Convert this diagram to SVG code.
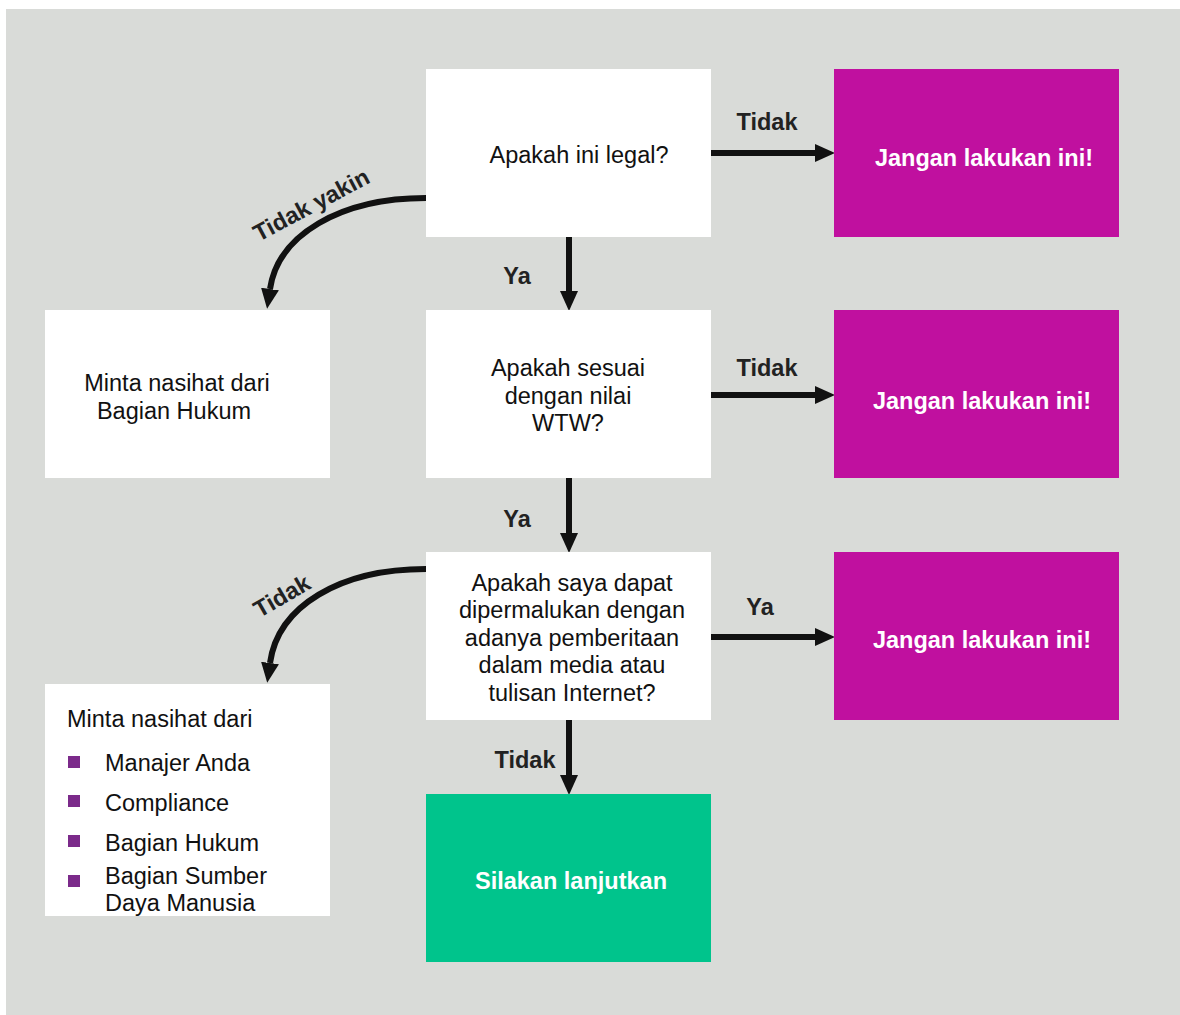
<svg xmlns="http://www.w3.org/2000/svg" width="1180" height="1015" viewBox="0 0 1180 1015">
<defs>
<style>
.bg{fill:#d9dbd8}
.w{fill:#ffffff}
.m{fill:#c0109f}
.g{fill:#00c48c}
.t{font-family:"Liberation Sans",Arial,sans-serif;font-size:23.5px;fill:#111}
.tw{font-family:"Liberation Sans",Arial,sans-serif;font-size:23.5px;font-weight:bold;fill:#fff}
.lb{font-family:"Liberation Sans",Arial,sans-serif;font-size:23.5px;font-weight:bold;fill:#222}
.c{stroke:#111;stroke-width:6;fill:none}
.b{fill:#7b2a8a}
</style>
<marker id="ah" markerUnits="userSpaceOnUse" markerWidth="22" markerHeight="20" refX="0" refY="9" orient="auto">
<path d="M0,0 L20,9 L0,18 z" fill="#111"/>
</marker>
</defs>
<rect class="bg" x="6" y="9" width="1174" height="1006"/>

<g id="connectors">
<line class="c" x1="711" y1="153" x2="815" y2="153" marker-end="url(#ah)"/>
<line class="c" x1="711" y1="395" x2="815" y2="395" marker-end="url(#ah)"/>
<line class="c" x1="711" y1="637" x2="815" y2="637" marker-end="url(#ah)"/>
<line class="c" x1="569" y1="237" x2="569" y2="291" marker-end="url(#ah)"/>
<line class="c" x1="569" y1="478" x2="569" y2="533" marker-end="url(#ah)"/>
<line class="c" x1="569" y1="720" x2="569" y2="775" marker-end="url(#ah)"/>
<path class="c" d="M426,198 C340,198 278,235 270,289" marker-end="url(#ah)"/>
<path class="c" d="M426,569 C340,569 278,606 270,663" marker-end="url(#ah)"/>
<text class="lb" x="767" y="130" text-anchor="middle">Tidak</text>
<text class="lb" x="767" y="376" text-anchor="middle">Tidak</text>
<text class="lb" x="760" y="615" text-anchor="middle">Ya</text>
<text class="lb" x="517" y="284" text-anchor="middle">Ya</text>
<text class="lb" x="517" y="527" text-anchor="middle">Ya</text>
<text class="lb" x="525" y="768" text-anchor="middle">Tidak</text>
<text class="lb" x="0" y="0" text-anchor="middle" transform="translate(315,212) rotate(-28)">Tidak yakin</text>
<text class="lb" x="0" y="0" text-anchor="middle" transform="translate(286,603) rotate(-30)">Tidak</text>
</g>

<g id="q1">
<rect class="w" x="426" y="69" width="285" height="168"/>
<text class="t" x="579" y="163" text-anchor="middle">Apakah ini legal?</text>
</g>
<g id="no1">
<rect class="m" x="834" y="69" width="285" height="168"/>
<text class="tw" x="984" y="166" text-anchor="middle">Jangan lakukan ini!</text>
</g>
<g id="q2">
<rect class="w" x="426" y="310" width="285" height="168"/>
<text class="t" text-anchor="middle"><tspan x="568" y="376">Apakah sesuai</tspan><tspan x="568" y="404">dengan nilai</tspan><tspan x="568" y="431">WTW?</tspan></text>
</g>
<g id="no2">
<rect class="m" x="834" y="310" width="285" height="168"/>
<text class="tw" x="982" y="409" text-anchor="middle">Jangan lakukan ini!</text>
</g>
<g id="q3">
<rect class="w" x="426" y="552" width="285" height="168"/>
<text class="t" text-anchor="middle"><tspan x="572" y="591">Apakah saya dapat</tspan><tspan x="572" y="618">dipermalukan dengan</tspan><tspan x="572" y="646">adanya pemberitaan</tspan><tspan x="572" y="673">dalam media atau</tspan><tspan x="572" y="701">tulisan Internet?</tspan></text>
</g>
<g id="no3">
<rect class="m" x="834" y="552" width="285" height="168"/>
<text class="tw" x="982" y="648" text-anchor="middle">Jangan lakukan ini!</text>
</g>
<g id="go">
<rect class="g" x="426" y="794" width="285" height="168"/>
<text class="tw" x="571" y="889" text-anchor="middle">Silakan lanjutkan</text>
</g>
<g id="legal">
<rect class="w" x="45" y="310" width="285" height="168"/>
<text class="t" text-anchor="middle"><tspan x="177" y="391">Minta nasihat dari</tspan><tspan x="174" y="419">Bagian Hukum</tspan></text>
</g>
<g id="advice">
<rect class="w" x="45" y="684" width="285" height="232"/>
<text class="t" x="67" y="727">Minta nasihat dari</text>
<rect class="b" x="68" y="756" width="12" height="12"/>
<rect class="b" x="68" y="795" width="12" height="12"/>
<rect class="b" x="68" y="835" width="12" height="12"/>
<rect class="b" x="68" y="875" width="12" height="12"/>
<text class="t" x="105" y="771">Manajer Anda</text>
<text class="t" x="105" y="811">Compliance</text>
<text class="t" x="105" y="851">Bagian Hukum</text>
<text class="t" x="105" y="884">Bagian Sumber</text>
<text class="t" x="105" y="911">Daya Manusia</text>
</g>
</svg>
